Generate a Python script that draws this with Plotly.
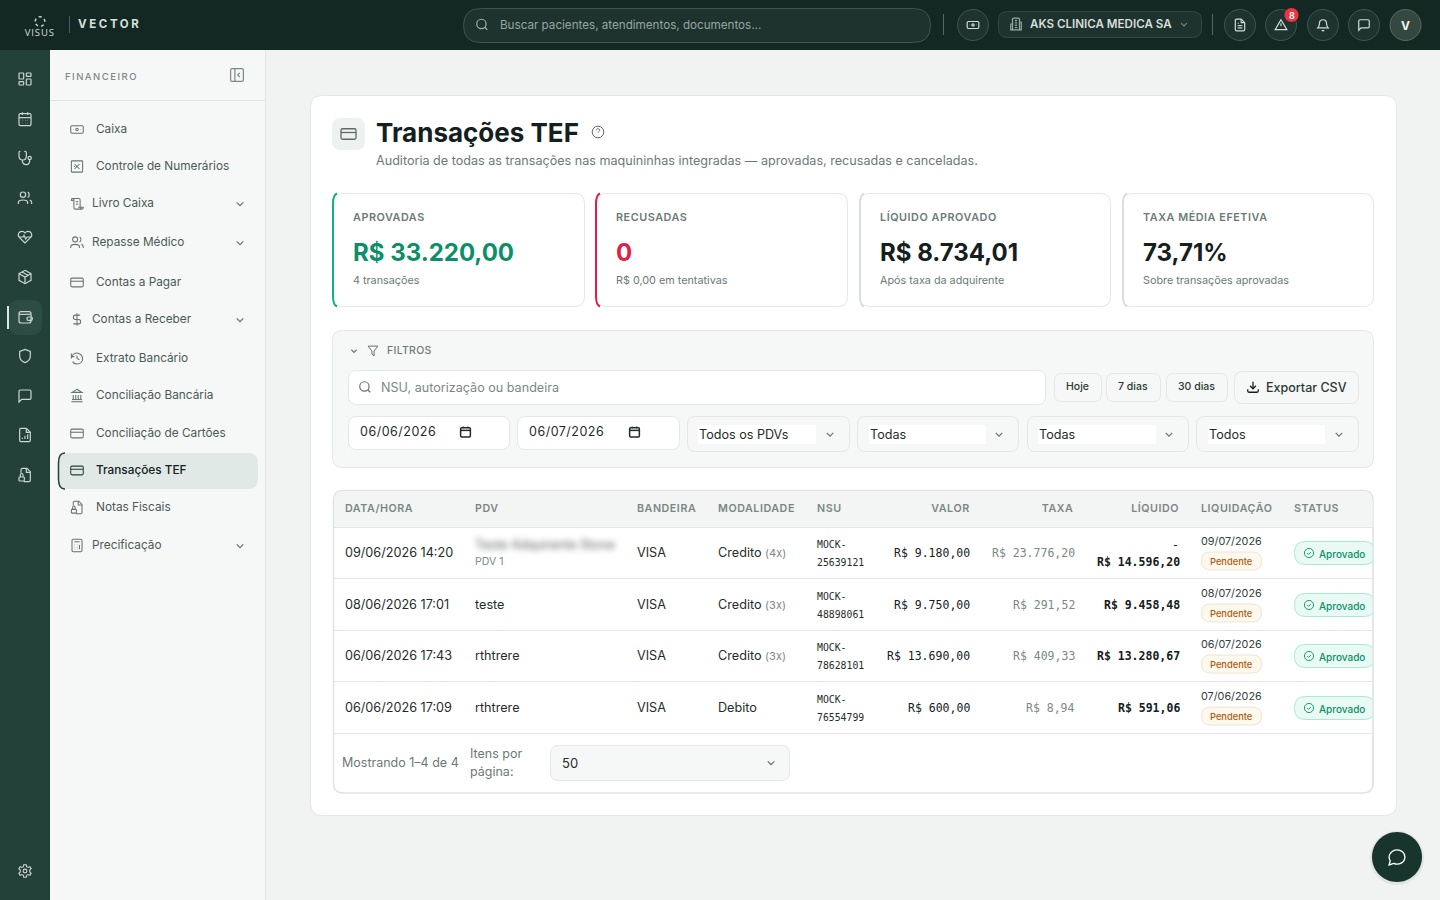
import json
import re

import plotly.graph_objects as go

# textos da tela
menu_labels = ['Caixa', 'Controle de Numerários', 'Livro Caixa', 'Repasse Médico', 'Contas a Pagar',
               'Contas a Receber', 'Extrato Bancário', 'Conciliação Bancária', 'Conciliação de Cartões',
               'Transações TEF', 'Notas Fiscais', 'Precificação']
menu_icons = ['cash', 'box_x', 'scroll', 'users', 'card', 'dollar', 'history', 'bank', 'card', 'card', 'doc_lock', 'calc']
menu_chevron = [False, False, True, True, False, True, False, False, False, False, False, True]
menu_y = [129, 166, 203, 242, 282, 319, 358, 395, 433, 470, 507, 545]
rail_icons = ['grid', 'calendar', 'steth', 'users', 'heart', 'package', 'wallet', 'shield', 'chat', 'doc_chart', 'doc_lock']
rail_y = [79, 119, 158, 198, 237, 277, 317, 356, 396, 435, 475]

kpi_labels = ['APROVADAS', 'RECUSADAS', 'LÍQUIDO APROVADO', 'TAXA MÉDIA EFETIVA']
kpi_values = ['R$ 33.220,00', '0', 'R$ 8.734,01', '73,71%']
kpi_subs = ['4 transações', 'R$ 0,00 em tentativas', 'Após taxa da adquirente', 'Sobre transações aprovadas']
kpi_x = [(332, 584), (595, 847), (859, 1110), (1122, 1373)]
kpi_colors = ['#10b07f', '#e11d48', '#d9dfdd', '#d9dfdd']
kpi_value_colors = ['#0b8f68', '#e11d48', '#14201d', '#14201d']

select_labels = ['Todos os PDVs', 'Todas', 'Todas', 'Todos']
select_x = [(687, 850), (857, 1019), (1027, 1189), (1196, 1359)]
select_inner = [(698, 816), (869, 986), (1038, 1156), (1208, 1325)]
quick_labels = ['Hoje', '7 dias', '30 dias']
quick_x = [(1054, 1101), (1106, 1160), (1166, 1227)]
date_labels = ['06/06/2026', '06/07/2026']
date_x = [(348, 510), (517, 680)]

col_left = {'DATA/HORA': 345, 'PDV': 475, 'BANDEIRA': 637, 'MODALIDADE': 718, 'NSU': 817, 'LIQUIDAÇÃO': 1201, 'STATUS': 1294}
col_right = {'VALOR': 970, 'TAXA': 1074, 'LÍQUIDO': 1179}

datas = ['09/06/2026 14:20', '08/06/2026 17:01', '06/06/2026 17:43', '06/06/2026 17:09']
pdvs = ['Teste Adquirente Stone', 'teste', 'rthtrere', 'rthtrere']
bandeiras = ['VISA', 'VISA', 'VISA', 'VISA']
modalidades = ['Credito', 'Credito', 'Credito', 'Debito']
parcelas = ['(4x)', '(3x)', '(3x)', '']
nsus = ['25639121', '48898061', '78628101', '76554799']
valores = ['R$ 9.180,00', 'R$ 9.750,00', 'R$ 13.690,00', 'R$ 600,00']
taxas = ['R$ 23.776,20', 'R$ 291,52', 'R$ 409,33', 'R$ 8,94']
liquidos = ['R$ 14.596,20', 'R$ 9.458,48', 'R$ 13.280,67', 'R$ 591,06']
liquidacoes = ['09/07/2026', '08/07/2026', '06/07/2026', '07/06/2026']
row_y = [552.5, 604.5, 655.5, 707.5]
row_lines = [527, 578, 630, 681, 733]

# letter-spacing (px), aplicado depois do desenho
spaced = {'VECTOR': 2.6, 'VISUS': 0.9, 'FINANCEIRO': 1.5, 'FILTROS': 0.3, 'APROVADAS': 0.55, 'RECUSADAS': 0.55,
          'LÍQUIDO APROVADO': 0.55, 'TAXA MÉDIA EFETIVA': 0.55, 'DATA/HORA': 0.55, 'PDV': 0.55, 'BANDEIRA': 0.55,
          'MODALIDADE': 0.55, 'NSU': 0.55, 'VALOR': 0.55, 'TAXA': 0.55, 'LÍQUIDO': 0.55, 'LIQUIDAÇÃO': 0.55,
          'STATUS': 0.55}

DARK = '#132823'
RAIL = '#234139'
INK = '#14201d'
TXT = '#1f2c29'
MUTED = '#6b7a76'
LINE = '#e3e8e6'
PANEL = '#f6f8f7'
FONT = 'Inter'
MONO = 'DejaVu Sans Mono'


def rr(x0, y0, x1, y1, r):
    return (f'M{x0+r},{y0} L{x1-r},{y0} Q{x1},{y0} {x1},{y0+r} L{x1},{y1-r} Q{x1},{y1} {x1-r},{y1} '
            f'L{x0+r},{y1} Q{x0},{y1} {x0},{y1-r} L{x0},{y0+r} Q{x0},{y0} {x0+r},{y0} Z')


def circ(cx, cy, r):
    k = 0.5523 * r
    return (f'M{cx-r},{cy} C{cx-r},{cy-k} {cx-k},{cy-r} {cx},{cy-r} C{cx+k},{cy-r} {cx+r},{cy-k} {cx+r},{cy} '
            f'C{cx+r},{cy+k} {cx+k},{cy+r} {cx},{cy+r} C{cx-k},{cy+r} {cx-r},{cy+k} {cx-r},{cy} Z')


# icones em grade 24x24, só M L Q C Z absolutos
ICONS = {
    'grid': [rr(3, 3, 10, 12, 1), rr(14, 3, 21, 8, 1), rr(14, 12, 21, 21, 1), rr(3, 16, 10, 21, 1)],
    'calendar': [rr(3, 4, 21, 22, 2), 'M8,2 L8,6', 'M16,2 L16,6', 'M3,10 L21,10', 'M8,14 L8.5,14', 'M12,14 L12.5,14',
                 'M16,14 L16.5,14', 'M8,18 L8.5,18', 'M12,18 L12.5,18', 'M16,18 L16.5,18'],
    'steth': ['M5,2 L4,2 Q3,2 3,4 L3,9 C3,13 6,15 9,15 C12,15 14,13 14,9 L14,4 Q14,2 12,2 L11,2',
              'M8,15 C8,19 10,22 14,22 C18,22 19,19 19,15', circ(19, 12, 2.5)],
    'users': [circ(9, 7, 4), 'M2,21 L2,19 C2,16 5,15 9,15 C13,15 16,16 16,19 L16,21', 'M16,3.2 C19,4 19,10 16,11',
              'M19,15 C21,15.5 22,17 22,19 L22,21'],
    'heart': ['M12,21 L3.5,12.5 C0,9 2.5,3.5 7.5,3.5 C9.5,3.5 11,4.5 12,6 C13,4.5 14.5,3.5 16.5,3.5 C21.5,3.5 24,9 20.5,12.5 Z',
              'M3,12 L9,12 L10.5,9.5 L13,15 L15,12 L21,12'],
    'package': ['M12,2 L21,7 L21,17 L12,22 L3,17 L3,7 Z', 'M3,7 L12,12 L21,7', 'M12,12 L12,22', 'M7.5,4.5 L16.5,9.5'],
    'wallet': [rr(3, 4, 21, 21, 3), 'M3,8 L21,8', rr(15, 12, 23, 17, 2)],
    'shield': ['M12,22 C6,20 4,16 4,12 L4,5 L12,2 L20,5 L20,12 C20,16 18,20 12,22 Z'],
    'chat': ['M3,21 L3,5 Q3,3 5,3 L19,3 Q21,3 21,5 L21,15 Q21,17 19,17 L7,17 Z'],
    'doc_chart': ['M14,2 L6,2 Q4,2 4,4 L4,20 Q4,22 6,22 L18,22 Q20,22 20,20 L20,8 Z', 'M14,2 L14,8 L20,8', 'M8,18 L8,16', 'M12,18 L12,13', 'M16,18 L16,11'],
    'doc_lock': ['M10,22 L18,22 Q20,22 20,20 L20,7 L15,2 L8,2 Q6,2 6,4 L6,9', 'M14,2 L14,8 L20,8', rr(3, 15, 11, 21, 1), 'M5,15 L5,12 C5,9 9,9 9,12 L9,15'],
    'cash': [rr(2, 6, 22, 18, 2), circ(12, 12, 2), 'M6,12 L6.5,12', 'M18,12 L18.5,12'],
    'box_x': [rr(3, 3, 21, 21, 1), 'M8,8 L16,16', 'M16,8 L8,16', 'M7,12 L9,12'],
    'scroll': ['M3,4 L15,4 Q17,4 17,6 L17,18 Q17,21 20,21 L9,21 Q7,21 7,18 L7,6 Q7,4 5,4 Q3,4 3,7 L6,7', 'M10,9 L14,9', 'M10,13 L14,13', 'M20,21 Q22,21 22,18 L14,18'],
    'card': [rr(2, 5, 22, 19, 2), 'M2,10 L22,10'],
    'dollar': ['M12,2 L12,22', 'M17,5 L9.5,5 C5,5 5,12 9.5,12 L14.5,12 C19,12 19,19 14.5,19 L6,19'],
    'history': ['M3,12 C3,5 10,2 15,4 C21,6 23,13 19,18 C15,22 8,22 5,17', 'M3,4 L3,9 L8,9', 'M12,7 L12,12 L16,14'],
    'bank': ['M3,22 L21,22', 'M6,18 L6,11', 'M10,18 L10,11', 'M14,18 L14,11', 'M18,18 L18,11', 'M12,2 L20,7 L4,7 Z', 'M4,18.5 L20,18.5'],
    'calc': [rr(4, 2, 20, 22, 2), 'M8,6 L16,6', 'M8,11 L8.5,11', 'M12,11 L12.5,11', 'M16,11 L16,18', 'M8,15 L8.5,15', 'M12,15 L12.5,15', 'M8,18 L8.5,18', 'M12,18 L12.5,18'],
    'chev': ['M6,9 L12,15 L18,9'],
    'search': [circ(11, 11, 8), 'M21,21 L16.7,16.7'],
    'funnel': ['M3,3 L21,3 L14,12 L14,21 L10,18 L10,12 Z'],
    'panel': [rr(3, 3, 21, 21, 2), 'M9,3 L9,21', 'M16,9 L13,12 L16,15'],
    'help': [circ(12, 12, 10), 'M9,9 C9,5.5 15,5.5 15,9 C15,11 12,11.5 12,13.5', 'M12,17 L12.1,17'],
    'building': ['M6,22 L6,4 Q6,2 8,2 L16,2 Q18,2 18,4 L18,22 Z', 'M6,12 L3,12 L3,22 L6,22', 'M18,9 L21,9 L21,22 L18,22', 'M10,6 L14,6', 'M10,10 L14,10', 'M10,14 L14,14', 'M10,18 L14,18'],
    'doc': ['M14,2 L6,2 Q4,2 4,4 L4,20 Q4,22 6,22 L18,22 Q20,22 20,20 L20,8 Z', 'M14,2 L14,8 L20,8', 'M8,9 L10,9', 'M8,13 L16,13', 'M8,17 L16,17'],
    'alert': ['M12,3 L22,20 L2,20 Z', 'M12,9 L12,14', 'M12,17 L12.1,17'],
    'bell': ['M3,17 C5,15 6,14 6,9 C6,1 18,1 18,9 C18,14 19,15 21,17 Z', 'M10,21 Q12,23 14,21'],
    'download': ['M12,3 L12,15', 'M7,10 L12,15 L17,10', 'M3,16 L3,19 Q3,21 5,21 L19,21 Q21,21 21,19 L21,16'],
    'calendar_solid': [rr(3, 4, 21, 21, 2), 'M3,9 L21,9', 'M8,2 L8,5', 'M16,2 L16,5'],
    'check': [circ(12, 12, 10), 'M8,12 L11,15 L16,10'],
    'bubble': ['M7.9,20 C14,23 22,19 22,12 C22,6 17,3 12,3 C7,3 2,7 2,12 C2,14 2.6,15.5 3.4,17 L2,22 Z'],
    'gear': [circ(12, 12, 3), 'M10,2 L14,2 L14.6,5 L17,6.2 L19.8,5 L21.8,8.4 L19.6,10.4 L19.6,13.6 L21.8,15.6 L19.8,19 L17,17.8 '
             'L14.6,19 L14,22 L10,22 L9.4,19 L7,17.8 L4.2,19 L2.2,15.6 L4.4,13.6 L4.4,10.4 L2.2,8.4 L4.2,5 L7,6.2 L9.4,5 Z'],
}

shapes = []
annotations = []


def box(x0, y0, x1, y1, r=0, fill='rgba(0,0,0,0)', line=None, lw=1):
    shapes.append(dict(type='path', xref='x', yref='y', path=rr(x0, y0, x1, y1, r) if r else
                       f'M{x0},{y0} L{x1},{y0} L{x1},{y1} L{x0},{y1} Z', fillcolor=fill,
                       line=dict(color=line or 'rgba(0,0,0,0)', width=lw if line else 0)))


def disc(cx, cy, r, fill, line=None, lw=1, dash='solid'):
    shapes.append(dict(type='path', xref='x', yref='y', path=circ(cx, cy, r), fillcolor=fill,
                       line=dict(color=line or 'rgba(0,0,0,0)', width=lw if line else 0, dash=dash)))


def seg(x0, y0, x1, y1, color, lw=1):
    shapes.append(dict(type='line', xref='x', yref='y', x0=x0, y0=y0, x1=x1, y1=y1, line=dict(color=color, width=lw)))


def icon(name, cx, cy, size, color, lw=1.2, fill='rgba(0,0,0,0)'):
    s = size / 24

    def mover(m):
        return f'{cx + (float(m.group(1)) - 12) * s:.2f},{cy + (float(m.group(2)) - 12) * s:.2f}'

    for p in ICONS[name]:
        shapes.append(dict(type='path', xref='x', yref='y', fillcolor=fill, line=dict(color=color, width=lw),
                           path=re.sub(r'(-?[\d.]+)[ ,](-?[\d.]+)', mover, p)))


def text(x, y, s, size=13, color=TXT, weight=400, anchor='left', family=FONT):
    annotations.append(dict(x=x, y=y, xref='x', yref='y', text=s, showarrow=False, xanchor=anchor, yanchor='middle',
                            align=anchor, borderpad=0, borderwidth=0,
                            font=dict(family=family, size=size, color=color, weight=weight)))


# fundos
box(0, 0, 1440, 900, fill='#f0f3f2')
box(50, 50, 265, 900, fill=PANEL)
seg(265.5, 50, 265.5, 900, LINE)
seg(50, 100.5, 265, 100.5, LINE)
box(0, 50, 50, 900, fill=RAIL)
box(0, 0, 1440, 50, fill=DARK)

# barra superior
disc(40, 21.5, 4.8, 'rgba(0,0,0,0)', '#c9d2cf', 1.5, 'dot')
text(40, 32, 'VISUS', 9.5, '#d5dddb', 400, 'center', 'Open Sans')
seg(69.5, 16, 69.5, 33, '#4a5c57')
text(78, 23.5, 'VECTOR', 11.5, '#d9e0de', 700)
box(463.5, 8.5, 930.5, 42.5, 17, '#1e332e', '#41544f')
icon('search', 482, 24.5, 14, '#a4b0ad')
text(500, 24.5, 'Buscar pacientes, atendimentos, documentos...', 11.65, '#97a5a1')
seg(943.5, 14, 943.5, 35, '#56675f')
disc(973, 25, 15.5, '#1e332e', '#41544f')
icon('cash', 973, 25, 14, '#d3dbd9')
box(998.5, 11.5, 1201.5, 37.5, 9, '#1e332e', '#34483f')
icon('building', 1016, 24, 14, '#9aa8a4')
text(1030, 24, 'AKS CLINICA MEDICA SA', 11.6, '#d6dfdc', 600)
icon('chev', 1184, 24.5, 11, '#75857f')
seg(1212.5, 14, 1212.5, 35, '#56675f')
for cx, ic in zip([1240, 1281, 1323, 1364], ['doc', 'alert', 'bell', 'chat']):
    disc(cx, 25, 15.5, '#1e332e', '#41544f')
    icon(ic, cx, 25, 14, '#d3dbd9')
disc(1405.5, 25, 15.5, '#34483f', '#566a63')
text(1405.5, 25, 'V', 12, '#f0f4f3', 700, 'center')
disc(1291.5, 15, 7, '#ef3340')
text(1291.5, 15, '8', 9, '#ffffff', 700, 'center')

# trilho esquerdo
box(9, 300, 42, 335, 10, '#2d4d44')
seg(8, 306, 8, 329, '#dfe7e5', 2)
for ic, y in zip(rail_icons, rail_y):
    icon(ic, 25, y, 16, '#ccd6d3', 1.2)
icon('gear', 25, 871, 15, '#ccd6d3', 1.1)

# menu financeiro
text(65, 76, 'FINANCEIRO', 9.5, '#7b8885', 500)
icon('panel', 237, 75, 17, '#7b8885')
box(58, 453, 258, 489, 10, '#e1e9e7')
shapes.append(dict(type='path', xref='x', yref='y', path='M65,453 Q58.5,453 58.5,463 L58.5,479 Q58.5,489 65,489',
                   fillcolor='rgba(0,0,0,0)', line=dict(color=RAIL, width=1.5)))
for lab, ic, ch, y in zip(menu_labels, menu_icons, menu_chevron, menu_y):
    active = lab == 'Transações TEF'
    icon(ic, 77, y + 0.5, 15, RAIL if active else '#66736f', 1.05)
    text(92 if ch else 96, y, lab, 11.8, INK if active else '#4a5a56', 500 if active else 400)
    if ch:
        icon('chev', 240, y + 1, 13, '#66736f')

# cartão principal
box(310.5, 95.5, 1396.5, 815.5, 12, '#ffffff', LINE)
box(332, 118, 365, 150, 9, '#edf1f0')
icon('card', 348.5, 134, 18, '#5d6b67', 1.3)
text(376, 132, 'Transações TEF', 26, INK, 700)
icon('help', 598, 132, 14, '#5d6b67', 1)
text(376, 160.5, 'Auditoria de todas as transações nas maquininhas integradas — aprovadas, recusadas e canceladas.', 12.6, MUTED)

# kpis
for (x0, x1), lab, val, sub, c, vc in zip(kpi_x, kpi_labels, kpi_values, kpi_subs, kpi_colors, kpi_value_colors):
    box(x0 + 0.5, 193.5, x1 + 0.5, 306.5, 10, '#ffffff', LINE)
    shapes.append(dict(type='path', xref='x', yref='y', fillcolor='rgba(0,0,0,0)', line=dict(color=c, width=2),
                       path=f'M{x0+5},193.5 Q{x0+1},195 {x0+1},204 L{x0+1},296 Q{x0+1},305 {x0+5},306.5'))
    text(x0 + 20.5, 217, lab, 10.8, MUTED, 600)
    text(x0 + 20.5, 252, val, 24, vc, 700)
    text(x0 + 20.5, 280.5, sub, 10.8, MUTED)

# filtros
box(332.5, 330.5, 1373.5, 467.5, 10, PANEL, LINE)
icon('chev', 354, 351, 11, '#66736f')
icon('funnel', 373, 351, 13, '#66736f', 1)
text(387, 350.5, 'FILTROS', 10.5, MUTED, 500)
box(348.5, 370.5, 1045.5, 404.5, 8, '#ffffff', LINE)
icon('search', 365, 387, 14, '#66736f')
text(381, 387.5, 'NSU, autorização ou bandeira', 12.6, '#7b8885')
for (x0, x1), lab in zip(quick_x, quick_labels):
    box(x0 + 0.5, 373.5, x1 + 0.5, 401.5, 7, PANEL, LINE)
    text((x0 + x1) / 2, 386.5, lab, 10.5, '#2a3835', 500, 'center')
box(1234.5, 371.5, 1358.5, 403.5, 8, PANEL, LINE)
icon('download', 1253, 387, 14, INK, 1.3)
text(1266, 387, 'Exportar CSV', 12.5, '#2a3835', 500)
for (x0, x1), lab in zip(date_x, date_labels):
    box(x0 + 0.5, 416.5, x1 - 0.5, 449.5, 8, '#ffffff', LINE)
    text(x0 + 12, 431.5, lab, 12.5, TXT)
    icon('calendar_solid', x0 + 117.5, 432, 13, '#1f2c29', 1.5)
for (x0, x1), (i0, i1), lab in zip(select_x, select_inner, select_labels):
    box(x0 + 0.5, 416.5, x1 - 0.5, 451.5, 8, PANEL, LINE)
    box(i0, 425, i1, 444, fill='#ffffff')
    text(i0 + 1, 434, lab, 12.6, TXT)
    icon('chev', x1 - 20, 434.5, 13, '#66736f')

# tabela
box(333.5, 490.5, 1373, 793, 10, '#ffffff', '#dfe5e3', 1.5)
shapes.append(dict(type='path', xref='x', yref='y', fillcolor='#f3f5f4', line=dict(width=0, color='rgba(0,0,0,0)'),
                   path='M334,500 Q334,491 343,491 L1363,491 Q1372.5,491 1372.5,500 L1372.5,527 L334,527 Z'))
for y in row_lines:
    seg(334, y + 0.5, 1372.5, y + 0.5, LINE)
for lab, x in col_left.items():
    text(x, 508, lab, 10.7, '#7a8784', 600)
for lab, x in col_right.items():
    text(x, 508, lab, 10.7, '#7a8784', 600, 'right')

for i, y in enumerate(row_y):
    text(345, y, datas[i], 12.65, TXT)
    if i == 0:
        text(475, y - 8, pdvs[i], 12.65, '#55625e')
        text(475, y + 9, 'PDV 1', 10.5, '#7b8885')
    else:
        text(475, y, pdvs[i], 12.65, TXT)
    text(637, y, bandeiras[i], 12.65, TXT)
    mod = modalidades[i]
    if parcelas[i]:
        mod += f' <span style="font-size:11px;color:#7b8885">{parcelas[i]}</span>'
    text(718, y, mod, 12.65, TXT)
    text(817, y - 8, 'MOCK-', 9.8, TXT, 400, 'left', MONO)
    text(817, y + 10, nsus[i], 9.8, TXT, 400, 'left', MONO)
    text(970, y + 0.5, valores[i], 11.5, INK, 400, 'right', MONO)
    text(1075, y + 0.5, taxas[i], 11.5, '#7b8885', 400, 'right', MONO)
    if i == 0:
        text(1179, y - 8, '-', 11.5, INK, 400, 'right', MONO)
        text(1180, y + 9.5, liquidos[i], 11.5, INK, 700, 'right', MONO)
    else:
        text(1180, y + 0.5, liquidos[i], 11.5, INK, 700, 'right', MONO)
    text(1201, y - 11.5, liquidacoes[i], 10.8, '#33413d')
    box(1201.5, y - 0.5, 1261.5, y + 17.5, 9, '#fef9ec', '#ebe6d8')
    text(1231.5, y + 8.5, 'Pendente', 9.3, '#b4570d', 500, 'center')
    box(1294.5, y - 11, 1375, y + 12, 11, '#e8faf3', '#a9ebd2')
    icon('check', 1309, y + 0.5, 11, '#0b8f68', 0.9)
    text(1318.5, y + 1, 'Aprovado', 10, '#0b8f68', 500)

# cobre o que passa da borda da tabela
box(1373.4, 530, 1380, 733, fill='#ffffff')
seg(1373, 527, 1373, 785, '#dfe5e3', 1.5)

text(341.5, 762.5, 'Mostrando 1–4 de 4', 12.5, MUTED)
text(470, 753.5, 'Itens por', 12.5, MUTED)
text(470, 771.5, 'página:', 12.5, MUTED)
box(550.5, 745.5, 789.5, 780.5, 8, PANEL, LINE)
text(562, 762.5, '50', 13, TXT)
icon('chev', 771, 763, 13, '#66736f')

# botão flutuante
disc(1397, 858, 27, 'rgba(20,40,35,0.07)')
disc(1397, 857, 25, '#17352d')
icon('bubble', 1397, 857, 19, '#ffffff', 1.3)

fig = go.Figure()
# traço invisível só para manter os eixos
fig.add_trace(go.Scatter(x=[0, 1440], y=[0, 900], mode='markers', marker=dict(opacity=0), hoverinfo='skip', showlegend=False))
fig.update_layout(width=1440, height=900, margin=dict(l=0, r=0, t=0, b=0), paper_bgcolor='#f0f3f2', plot_bgcolor='#f0f3f2',
                  showlegend=False, shapes=shapes, annotations=annotations,
                  xaxis=dict(range=[0, 1440], visible=False, fixedrange=True),
                  yaxis=dict(range=[900, 0], visible=False, fixedrange=True))

post = """
document.body.style.margin = '0';
document.body.style.overflow = 'hidden';
var spaced = %s;
document.querySelectorAll('.annotation-text').forEach(function (t) {
    var s = t.getAttribute('data-unformatted');
    if (s in spaced) { t.style.letterSpacing = spaced[s] + 'px'; }
    // só as datas dos campos de filtro têm espaçamento
    if (/^\\d\\d\\/\\d\\d\\/\\d{4}$/.test(s) && parseFloat(t.style.fontSize) > 12) { t.style.letterSpacing = '0.5px'; }
    if (s === 'Teste Adquirente Stone') { t.style.filter = 'blur(3px)'; }
});
""" % json.dumps(spaced)

fig.write_html('out.html', config={'displayModeBar': False}, post_script=post)
